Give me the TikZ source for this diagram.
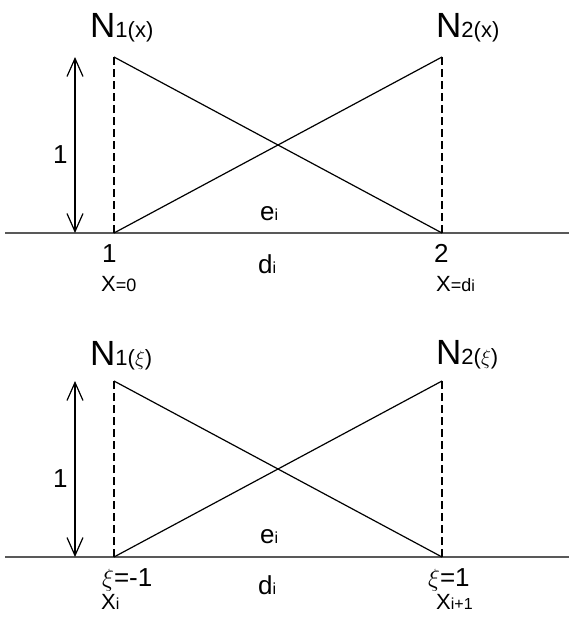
\documentclass[tikz,border=0pt]{standalone}
\usepackage{fontspec}
\setmainfont{Liberation Sans}
\usepackage{tikz}
\usetikzlibrary{arrows.meta}
\newcommand{\bigfs}{\fontsize{35}{35}\selectfont}
\newcommand{\midfs}{\fontsize{26}{26}\selectfont}
\newcommand{\xfs}{\fontsize{22}{22}\selectfont}
\newcommand{\eqfs}{\fontsize{18}{18}\selectfont}
\newcommand{\subfs}{\fontsize{22}{22}\selectfont}
\newcommand{\tinyfs}{\fontsize{16}{16}\selectfont}
\tikzset{
  axisline/.style={line width=1.8pt, black!65},
  shapeline/.style={line width=1.2pt},
  guide/.style={line width=1.1pt, dash pattern=on 8pt off 4pt},
  lbl/.style={anchor=base west, inner sep=0pt},
}

\begin{document}
\begin{tikzpicture}[x=1pt, y=-1pt, >={Straight Barb[length=18pt,width=16pt]}]
  \useasboundingbox (0,0) rectangle (569,621);
  % upper element, in x
  \coordinate (la) at (5,233);
  \coordinate (ra) at (569,233);
  \coordinate (pa1) at (114,233);
  \coordinate (pa2) at (442,233);
  \coordinate (qa1) at (114,57);
  \coordinate (qa2) at (442,57);
  \coordinate (ua) at (75,57);
  \coordinate (ba) at (75,233);
  \draw[axisline] (la) -- (ra);
  \draw[guide] (pa1) -- (qa1);
  \draw[guide] (pa2) -- (qa2);
  \draw[shapeline] (qa1) -- (pa2);
  \draw[shapeline] (pa1) -- (qa2);
  \draw[shapeline, <->] (ua) -- (ba);
  \node[lbl] (unita) at (53,163) {\midfs 1};
  \node[lbl] (na1) at (90,37) {\bigfs N\subfs 1(x)};
  \node[lbl] (na2) at (436,37) {\bigfs N\subfs 2(x)};
  \node[lbl] (ea) at (260,220) {\midfs e\tinyfs i};
  \node[lbl] (da) at (258,273) {\midfs d\tinyfs i};
  \node[lbl] (ka1) at (102,262) {\midfs 1};
  \node[lbl] (ka2) at (434,262) {\midfs 2};
  \node[lbl] (xa1) at (101,291) {\xfs X\eqfs =0};
  \node[lbl] (xa2) at (436,291) {\xfs X\eqfs =d\tinyfs i};
  % lower element, in xi
  \coordinate (lb) at (5,557);
  \coordinate (rb) at (569,557);
  \coordinate (pb1) at (114,557);
  \coordinate (pb2) at (442,557);
  \coordinate (qb1) at (114,381);
  \coordinate (qb2) at (442,381);
  \coordinate (ub) at (75,381);
  \coordinate (bb) at (75,557);
  \draw[axisline] (lb) -- (rb);
  \draw[guide] (pb1) -- (qb1);
  \draw[guide] (pb2) -- (qb2);
  \draw[shapeline] (qb1) -- (pb2);
  \draw[shapeline] (pb1) -- (qb2);
  \draw[shapeline, <->] (ub) -- (bb);
  \node[lbl] (unitb) at (53,487) {\midfs 1};
  \node[lbl] (nb1) at (90,365) {\bigfs N\subfs 1($\xi$)};
  \node[lbl] (nb2) at (436,364) {\bigfs N\subfs 2($\xi$)};
  \node[lbl] (eb) at (260,543) {\midfs e\tinyfs i};
  \node[lbl] (db) at (258,594) {\midfs d\tinyfs i};
  \node[lbl] (kb1) at (102,586) {\midfs $\xi$=-1};
  \node[lbl] (kb2) at (428,586) {\midfs $\xi$=1};
  \node[lbl] (xb1) at (101,609) {\xfs X\tinyfs i};
  \node[lbl] (xb2) at (436,609) {\xfs X\tinyfs i+1};
\end{tikzpicture}
\end{document}
